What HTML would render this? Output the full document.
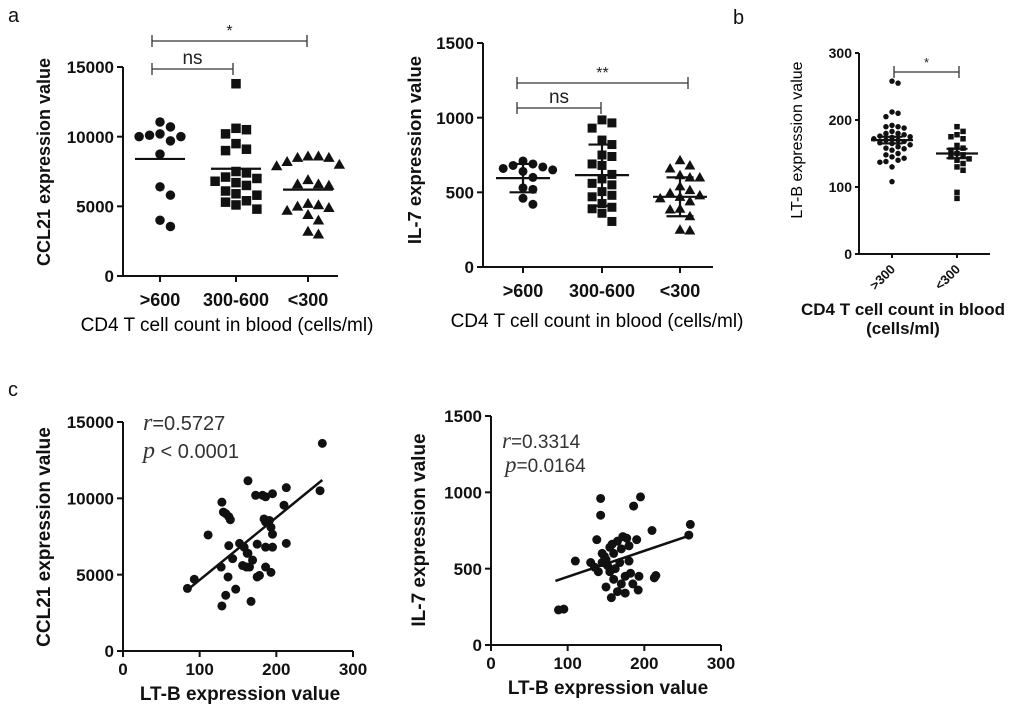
<!DOCTYPE html>
<html><head><meta charset="utf-8"><style>
html,body{margin:0;padding:0;background:#fff}
svg{display:block;font-family:"Liberation Sans",Arial,sans-serif}
.t{font-weight:bold;fill:#111}
</style></head><body>
<svg id="fig" width="1024" height="713" viewBox="0 0 1024 713"></svg>
<script>
// ---- Panel a-left: CCL21 by CD4 group ----
const groupsA = [">600","300-600","<300"];
const ccl21G1 = [11050,10700,10200,10100,10000,10000,9700,8750,6400,5800,4000,3550];
const ccl21G2 = [13800,10600,10500,10200,9500,9100,9000,7500,7400,7100,7000,6800,6700,6500,6100,5900,5800,5400,5300,5100,4800];
const ccl21G3 = [8600,8600,8500,8500,8200,8000,7900,6900,6600,6600,6500,5200,5100,5000,4900,4700,4400,4000,3200,3000];
const ccl21Mean = [8400,7700,6200];
const ccl21Ticks = [0,5000,10000,15000];
// ---- Panel a-right: IL-7 by CD4 group ----
const il7G1 = [710,690,680,670,660,650,640,600,530,520,460,420];
const il7G2 = [985,965,930,850,820,750,740,690,680,620,590,560,550,505,480,470,425,400,390,360,305];
const il7G3 = [715,680,660,615,600,540,515,495,480,470,460,440,390,385,340,250,245,600];
const il7Mean = [595,615,470];
const il7Err = [95,205,130];
const il7Ticks = [0,500,1000,1500];
// ---- Panel b: LT-B ----
const groupsB = [">300","<300"];
const ltbG1 = [258,255,212,210,205,192,190,190,188,183,180,180,178,176,175,174,172,170,170,168,166,165,163,160,158,157,155,150,148,145,143,140,138,137,130,108];
const ltbG2 = [190,183,178,175,172,162,158,155,150,148,145,142,140,135,130,125,92,83];
const ltbMean = [170,150];
const ltbErr = [5,7];
const ltbTicks = [0,100,200,300];
// ---- Panel c-left: CCL21 vs LT-B ----
const cLtb = [260,257,163,111,93,84,129,131,134,138,140,138,143,128,137,134,129,147,167,152,158,163,165,156,161,169,175,184,186,191,193,195,186,186,178,175,193,173,182,195,186,213,210,213,195,162];
const cCcl = [13600,10500,11150,7600,4700,4100,9750,9100,9000,8800,8600,6900,6050,5500,4850,3650,2950,4050,3250,7050,6800,6400,5500,5600,5500,5950,7000,8650,8450,8550,8100,7650,6800,5500,4950,4850,5150,10200,10200,10300,10100,10700,9550,7050,6800,6400];
const cFitX = [84,260];
const cFitY = [4000,11200];
// ---- Panel c-right: IL-7 vs LT-B ----
const dLtb = [88,95,110,130,135,138,140,143,143,145,148,150,150,152,155,155,157,158,160,162,165,165,168,170,170,172,175,175,177,180,180,182,185,186,190,192,193,195,210,213,215,258,260,145,160];
const dIl7 = [230,235,550,540,510,690,480,960,850,600,580,560,380,520,640,480,310,660,430,500,680,350,540,400,630,710,340,450,700,550,650,470,400,910,690,360,450,970,750,440,455,720,790,540,600];
const dFitX = [84,258];
const dFitY = [420,715];
const xTicksC = [0,100,200,300];

const NS="http://www.w3.org/2000/svg";
const svg=document.getElementById('fig');
function el(tag,attrs,parent){const e=document.createElementNS(NS,tag);for(const k in attrs)e.setAttribute(k,attrs[k]);(parent||svg).appendChild(e);return e;}
function txt(x,y,s,size,parent,extra){const t=el('text',Object.assign({x:x,y:y,'font-size':size,'text-anchor':'middle',class:'t'},extra||{}),parent);t.textContent=s;return t;}
function lin(d0,d1,r0,r1){return v=>r0+(v-d0)/(d1-d0)*(r1-r0);}

function yAxis(g,x,y,ticks,fs,tl){
  const a=el('line',{x1:x,y1:y(ticks[0]),x2:x,y2:y(ticks[ticks.length-1]),stroke:'#111','stroke-width':2},g);
  
  ticks.forEach(v=>{
    el('line',{x1:x-tl,y1:y(v),x2:x,y2:y(v),stroke:'#111','stroke-width':2},g);
    const t=txt(x-tl-3,y(v)+fs*0.36,String(v),fs,g,{'text-anchor':'end'});
    
  });
}
function swarm(vals,y,d){
  const placed=[];const out=[];
  vals.forEach(v=>{const py=y(v);let off=0;
    for(let k=0;k<30;k++){const o=(k%2?1:-1)*Math.ceil(k/2)*d*1.1;
      if(placed.every(p=>Math.abs(p[0]-o)>=d*1.05||Math.abs(p[1]-py)>=d*1.05)){off=o;break;}}
    placed.push([off,py]);out.push([off,py]);});
  return out;
}
function marker(g,shape,cx,cy,s){
  let m;
  if(shape==='c')m=el('circle',{cx:cx,cy:cy,r:s/2,fill:'#111'},g);
  else if(shape==='s')m=el('rect',{x:cx-s/2,y:cy-s/2,width:s,height:s,fill:'#111'},g);
  else m=el('polygon',{points:`${cx},${cy-s*0.6} ${cx-s*0.6},${cy+s*0.45} ${cx+s*0.6},${cy+s*0.45}`,fill:'#111'},g);
  
}
function bracket(g,x1,x2,y,label,fs){
  el('line',{x1:x1,y1:y,x2:x2,y2:y,stroke:'#333','stroke-width':1.3},g);
  el('line',{x1:x1,y1:y-6,x2:x1,y2:y+6,stroke:'#333','stroke-width':1.3},g);
  el('line',{x1:x2,y1:y-6,x2:x2,y2:y+6,stroke:'#333','stroke-width':1.3},g);
  const t=txt((x1+x2)/2,y-5,label,fs,g,{'font-weight':'normal',class:''});
  t.setAttribute('fill','#222');
}

function dotPanel(name,o){
  const g=el('g',{});
  const y=lin(o.ticks[0],o.ticks[o.ticks.length-1],o.y0,o.y1);
  yAxis(g,o.ax,y,o.ticks,o.yfs,o.tl);
  const xa=el('line',{x1:o.ax,y1:o.y0,x2:o.axEnd,y2:o.y0,stroke:'#111','stroke-width':2},g);
  
  o.series.forEach((vals,i)=>{
    const cx=o.cx[i];
    el('line',{x1:cx,y1:o.y0,x2:cx,y2:o.y0+o.tl,stroke:'#111','stroke-width':2},g);
    swarm(vals,y,o.ms).forEach(p=>marker(g,o.shapes[i],cx+p[0],p[1],o.ms));
    const my=y(o.mean[i]);
    const ml=el('line',{x1:cx-o.mw,y1:my,x2:cx+o.mw,y2:my,stroke:'#111','stroke-width':2.2},g);
    
    if(o.err){const e=o.err[i];
      el('line',{x1:cx,y1:y(o.mean[i]-e),x2:cx,y2:y(o.mean[i]+e),stroke:'#111','stroke-width':2.2},g);
      [o.mean[i]-e,o.mean[i]+e].forEach(v=>el('line',{x1:cx-o.mw*0.5,y1:y(v),x2:cx+o.mw*0.5,y2:y(v),stroke:'#111','stroke-width':2.2},g));}
    if(!o.rot){const t=txt(cx,o.y0+o.fs+12,o.cats[i],o.fs,g);}
    else{const t=txt(cx+4,o.y0+16,o.cats[i],o.fs,g,{'text-anchor':'end',transform:`rotate(-45 ${cx+4} ${o.y0+16})`});}
  });
  return g;
}

// panel a left
let g1=dotPanel('ccl21-dot-plot',{ax:123,axEnd:338,y0:276,y1:67,ticks:ccl21Ticks,fs:18,yfs:17,tl:6,cx:[160,236,308],cats:groupsA,series:[ccl21G1,ccl21G2,ccl21G3],shapes:['c','s','t'],ms:9.5,mean:ccl21Mean,mw:25});
txt(50,162,'CCL21 expression value',18,g1,{transform:'rotate(-90 50 162)'});
txt(227,331,'CD4 T cell count in blood (cells/ml)',19,g1,{'font-weight':'normal',class:''});
bracket(g1,152,307,41,'*',16);bracket(g1,152,233,69,'ns',19);
// panel a right
let g2=dotPanel('il7-dot-plot',{ax:483,axEnd:713,y0:267,y1:43,ticks:il7Ticks,fs:18,yfs:17,tl:6,cx:[523,602,680],cats:groupsA,series:[il7G1,il7G2,il7G3],shapes:['c','s','t'],ms:9,mean:il7Mean,err:il7Err,mw:27});
txt(421,150,'IL-7 expression value',18.5,g2,{transform:'rotate(-90 421 150)'});
txt(597,327,'CD4 T cell count in blood (cells/ml)',19,g2,{'font-weight':'normal',class:''});
bracket(g2,517,688,83,'**',16);bracket(g2,517,601,108,'ns',19);
// panel b
let g3=dotPanel('ltb-dot-plot',{ax:859,axEnd:990,y0:254,y1:53,ticks:ltbTicks,fs:13,yfs:14,tl:4,cx:[892,957],cats:groupsB,series:[ltbG1,ltbG2],shapes:['c','s'],ms:5.5,mean:ltbMean,err:ltbErr,mw:21,rot:true});
txt(802,140,'LT-B expression value',16,g3,{transform:'rotate(-90 802 140)','font-weight':'normal',class:''});
txt(903,315,'CD4 T cell count in blood',17,g3);
txt(903,334,'(cells/ml)',17,g3);
bracket(g3,894,959,72,'*',13);

function scatter(name,o){
  const g=el('g',{});
  const x=lin(0,300,o.ax,o.axEnd),y=lin(o.ticks[0],o.ticks[o.ticks.length-1],o.y0,o.y1);
  yAxis(g,o.ax,y,o.ticks,17,6);
  const xa=el('line',{x1:o.ax,y1:o.y0,x2:o.axEnd,y2:o.y0,stroke:'#111','stroke-width':2},g);
  
  xTicksC.forEach(v=>{el('line',{x1:x(v),y1:o.y0,x2:x(v),y2:o.y0+6,stroke:'#111','stroke-width':2},g);
    const t=txt(x(v),o.y0+24,String(v),17,g);});
  o.xs.forEach((v,i)=>marker(g,'c',x(v),y(o.ys[i]),9));
  const f=el('line',{x1:x(o.fx[0]),y1:y(o.fy[0]),x2:x(o.fx[1]),y2:y(o.fy[1]),stroke:'#111','stroke-width':2.5},g);
  
  txt((o.ax+o.axEnd)/2+2,o.y0+49,'LT-B expression value',19,g);
  return g;
}
let g4=scatter('ccl21-ltb-scatter',{ax:123,axEnd:353,y0:651,y1:422,ticks:ccl21Ticks,xs:cLtb,ys:cCcl,fx:cFitX,fy:cFitY});
txt(50,537,'CCL21 expression value',19,g4,{transform:'rotate(-90 50 537)'});
let a1=el('text',{x:143,y:430,'font-size':20,fill:'#333'},g4);a1.innerHTML='<tspan font-family="Liberation Serif" font-style="italic" font-size="24">r</tspan>=0.5727';
let a2=el('text',{x:143,y:458,'font-size':20,fill:'#333'},g4);a2.innerHTML='<tspan font-family="Liberation Serif" font-style="italic" font-size="24">p</tspan> &lt; 0.0001';
let g5=scatter('il7-ltb-scatter',{ax:491,axEnd:721,y0:645,y1:416,ticks:il7Ticks,xs:dLtb,ys:dIl7,fx:dFitX,fy:dFitY});
txt(425,530,'IL-7 expression value',19,g5,{transform:'rotate(-90 425 530)'});
let a3=el('text',{x:502,y:448,'font-size':19,fill:'#333'},g5);a3.innerHTML='<tspan font-family="Liberation Serif" font-style="italic" font-size="23">r</tspan>=0.3314';
let a4=el('text',{x:505,y:472,'font-size':19,fill:'#333'},g5);a4.innerHTML='<tspan font-family="Liberation Serif" font-style="italic" font-size="23">p</tspan>=0.0164';

// panel letters
[['a',8,22],['b',733,24],['c',8,396]].forEach(p=>{const t=el('text',{x:p[1],y:p[2],'font-size':20,fill:'#111'});t.textContent=p[0];

});
</script>
</body></html>
